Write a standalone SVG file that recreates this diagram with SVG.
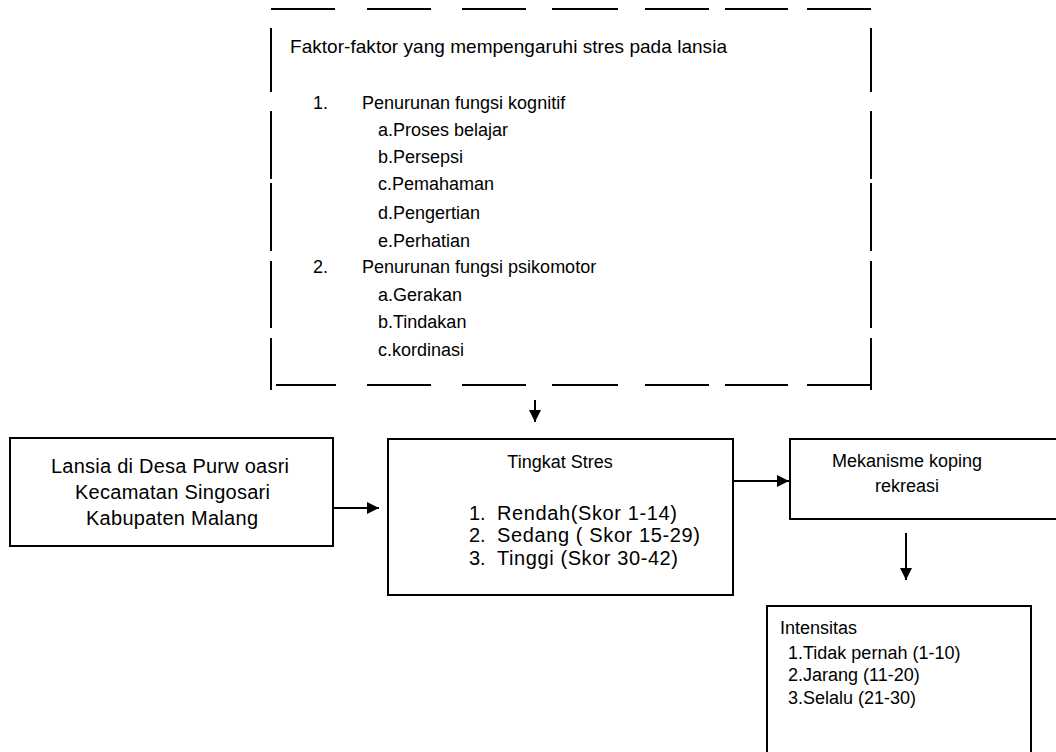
<svg xmlns="http://www.w3.org/2000/svg" width="1056" height="752" viewBox="0 0 1056 752">
<defs>
<style>
text{font-family:"Liberation Sans",Arial,sans-serif;font-size:18px;fill:#000}
.c{text-anchor:middle}
.l{font-size:20px}
.box{fill:#fff;stroke:#000;stroke-width:2}
.dash{stroke:#000;stroke-width:2;fill:none}
.conn{stroke:#000;stroke-width:2;fill:none}
</style>
<marker id="ah" viewBox="0 0 10 10" refX="10" refY="5" markerWidth="6" markerHeight="6" markerUnits="strokeWidth" orient="auto">
<path d="M0,0 L10,5 L0,10 z" fill="#000"/>
</marker>
</defs>
<rect width="1056" height="752" fill="#fff"/>
<g id="faktor">
<g class="dash">
<path d="M271,9H335M367,9H431M462,9H526M552,9H618M645,9H709M725,9H788M807,9H871"/>
<path d="M276,385H336M367,385H431M462,385H526M552,385H618M645,385H709M725,385H788M807,385H871"/>
<path d="M271,28V92M271,111V179M271,183V251M271,261V328M271,338V390"/>
<path d="M871,28V92M871,111V179M871,183V251M871,261V328M871,338V390"/>
</g>
<text x="290" y="53" style="font-size:19px" textLength="437" lengthAdjust="spacing">Faktor-faktor yang mempengaruhi stres pada lansia</text>
<text x="313" y="109">1.</text><text x="362" y="109">Penurunan fungsi kognitif</text>
<text x="378" y="136">a.Proses belajar</text>
<text x="378" y="163">b.Persepsi</text>
<text x="378" y="190">c.Pemahaman</text>
<text x="378" y="219">d.Pengertian</text>
<text x="378" y="247">e.Perhatian</text>
<text x="313" y="273">2.</text><text x="362" y="273">Penurunan fungsi psikomotor</text>
<text x="378" y="301">a.Gerakan</text>
<text x="378" y="328">b.Tindakan</text>
<text x="378" y="356">c.kordinasi</text>
</g>
<g id="lansia">
<rect class="box" x="10" y="438" width="323" height="108"/>
<text class="l" x="51" y="473" textLength="238" lengthAdjust="spacing">Lansia di Desa Purw oasri</text>
<text class="l" x="75" y="499" textLength="195" lengthAdjust="spacing">Kecamatan Singosari</text>
<text class="l" x="86" y="525" textLength="172" lengthAdjust="spacing">Kabupaten Malang</text>
</g>
<g id="tingkat">
<rect class="box" x="388" y="439" width="345" height="156"/>
<text class="c" x="560" y="468">Tingkat Stres</text>
<text class="l" x="469" y="520">1.</text><text class="l" x="497" y="520" textLength="180" lengthAdjust="spacing">Rendah(Skor 1-14)</text>
<text class="l" x="469" y="542">2.</text><text class="l" x="497" y="542" textLength="203" lengthAdjust="spacing">Sedang ( Skor 15-29)</text>
<text class="l" x="469" y="565">3.</text><text class="l" x="497" y="565" textLength="181" lengthAdjust="spacing">Tinggi (Skor 30-42)</text>
</g>
<g id="koping">
<rect class="box" x="790" y="439" width="280" height="80"/>
<text class="c" x="907" y="467">Mekanisme koping</text>
<text class="c" x="907" y="492">rekreasi</text>
</g>
<g id="intensitas">
<rect class="box" x="767" y="606" width="264" height="160"/>
<text x="780" y="634">Intensitas</text>
<text x="788" y="659">1.Tidak pernah (1-10)</text>
<text x="788" y="681">2.Jarang (11-20)</text>
<text x="788" y="704">3.Selalu (21-30)</text>
</g>
<g id="connectors">
<line class="conn" x1="535" y1="400" x2="535" y2="422" marker-end="url(#ah)"/>
<line class="conn" x1="333" y1="508" x2="379" y2="508" marker-end="url(#ah)"/>
<line class="conn" x1="733" y1="481" x2="789" y2="481" marker-end="url(#ah)"/>
<line class="conn" x1="906" y1="533" x2="906" y2="580" marker-end="url(#ah)"/>
</g>
</svg>
